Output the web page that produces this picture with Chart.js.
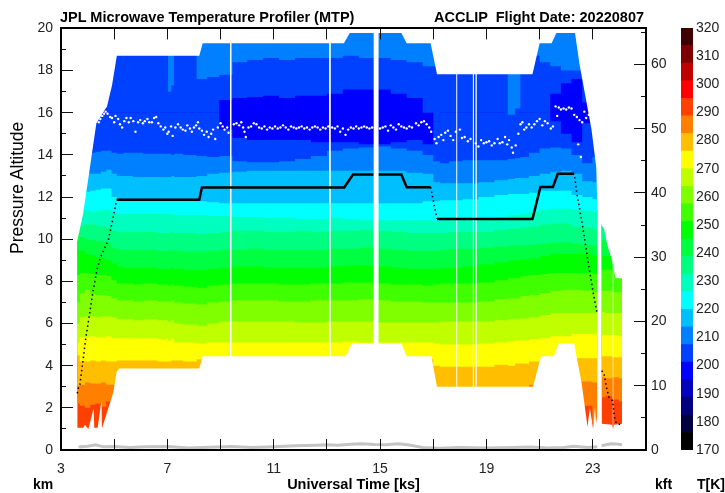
<!DOCTYPE html>
<html>
<head>
<meta charset="utf-8">
<title>MTP</title>
<script src="https://cdn.jsdelivr.net/npm/chart.js@4"></script>
<style>
body { margin: 0; background: #fff; overflow: hidden; }
canvas { position: absolute; top: 0; }
.lbl { position: absolute; font: bold 14px "Liberation Sans", Arial, sans-serif; color: #000; white-space: pre; line-height: 16px; }
</style>
</head>
<body>
<canvas id="mainChart" width="725" height="493" style="left:0"></canvas>
<canvas id="barChart" width="65" height="493" style="left:660px"></canvas>
<div class="lbl" style="left:60px;top:9px;font-size:14.5px">JPL Microwave Temperature Profiler (MTP)</div>
<div class="lbl" style="left:434px;top:9px;font-size:14.5px">ACCLIP  Flight Date: 20220807</div>
<div class="lbl" style="left:33px;top:476px">km</div>
<div class="lbl" style="left:655px;top:476px">kft</div>
<div class="lbl" style="left:697px;top:476px">T[K]</div>
<div class="lbl" style="left:9px;top:254px;font-weight:normal;font-size:17.5px;transform-origin:0 0;transform:rotate(-90deg)">Pressure Altitude</div>
<script>
// time columns for the isotherm altitudes, ks (23.25 is the data gap)
const times = [
    3.61, 3.8, 4.0, 4.2, 4.4, 4.6, 4.8, 5.0, 5.2, 5.5,
    5.9, 6.3, 6.95, 7.1, 7.2, 7.3, 7.9, 8.3, 8.7, 9.2,
    9.7, 10.3, 10.9, 11.5, 12.1, 12.7, 13.3, 13.9, 14.5, 15.1,
    15.7, 16.3, 16.9, 17.1, 17.4, 17.8, 18.4, 19, 19.6, 20.0,
    20.15, 20.4, 20.8, 21.2, 21.6, 22, 22.4, 22.8, 23.17, 23.25,
    23.33, 23.6, 23.85, 24.1
];

// altitude (km) of the top of each colour band
const redTop = [
    2.2, 2.1, 2.0, 2.15, 2.2, 2.05, 2.3, 2.3, 2.2, 2.2,
    2.2, 2.2, 2.2, 2.2, 2.2, 2.2, 2.2, 2.2, 2.2, 2.2,
    2.2, 2.2, 2.2, 2.2, 2.2, 2.2, 2.2, 2.2, 2.2, 2.2,
    2.2, 2.2, 2.2, 2.2, 2.2, 2.2, 2.2, 2.2, 2.2, 2.2,
    2.2, 2.2, 2.2, 2.2, 2.2, 2.2, 2.2, 2.1, 1.3, null,
    2.5, 2.55, 2.4, 2.3
];
const orangeTop = [
    3.05, 3.1, 3.2, 3.15, 3.15, 3.2, 3.1, 3.1, 3.1, 3.1,
    3.1, 3.1, 3.1, 3.1, 3.1, 3.1, 3.1, 3.1, 3.1, 3.1,
    3.1, 3.1, 3.1, 3.1, 3.1, 3.1, 3.1, 3.1, 3.1, 3.1,
    3.1, 3.1, 3.0, 2.9, 2.9, 2.9, 2.9, 2.9, 2.9, 2.9,
    2.9, 2.95, 3.1, 3.2, 3.2, 3.2, 3.25, 3.25, 3.2, null,
    3.45, 3.4, 3.45, 3.4
];
const amberTop = [
    4.5, 4.2, 4.2, 4.25, 4.2, 4.25, 4.2, 4.2, 4.25, 4.25,
    4.25, 4.25, 4.2, 4.2, 4.25, 4.25, 4.2, 4.3, 4.3, 4.3,
    4.3, 4.3, 4.3, 4.3, 4.3, 4.3, 4.3, 4.3, 4.3, 4.3,
    4.4, 4.4, 4.3, 4.0, 3.95, 3.95, 3.95, 3.95, 4.05, 4.0,
    4.1, 4.1, 4.2, 4.25, 4.3, 4.3, 4.35, 4.35, 4.35, null,
    4.45, 4.45, 4.4, 4.4
];
const yellowTop = [
    5.1, 5.35, 5.35, 5.4, 5.35, 5.35, 5.4, 5.3, 5.3, 5.3,
    5.3, 5.3, 5.25, 5.2, 5.3, 5.1, 5.1, 5.05, 5.1, 5.1,
    5.1, 5.1, 5.1, 5.1, 5.1, 5.1, 5.1, 5.15, 5.1, 5.1,
    5.1, 5.1, 5.1, 5.05, 5.0, 5.0, 5.0, 5.05, 5.1, 5.15,
    5.2, 5.2, 5.25, 5.3, 5.4, 5.4, 5.5, 5.5, 5.5, null,
    5.45, 5.45, 5.45, 5.4
];
const limeTop = [
    6.0, 6.3, 6.35, 6.35, 6.3, 6.35, 6.35, 6.3, 6.2, 6.2,
    6.15, 6.2, 6.15, 6.1, 6.15, 6.0, 5.95, 5.9, 6.0, 6.1,
    6.1, 6.1, 6.1, 6.1, 6.05, 6.05, 6.1, 6.1, 6.1, 6.05,
    6.05, 6.05, 6.05, 6.05, 6.1, 6.1, 6.1, 6.1, 6.15, 6.2,
    6.2, 6.25, 6.3, 6.4, 6.5, 6.5, 6.5, 6.5, 6.5, null,
    6.55, 6.5, 6.5, 6.5
];
const chartreuseTop = [
    7.0, 7.45, 7.6, 7.4, 7.35, 7.35, 7.3, 7.2, 7.1, 7.1,
    7.05, 7.1, 7.05, 7.05, 7.1, 7.0, 6.95, 6.9, 7.0, 7.05,
    7.1, 7.1, 7.1, 7.05, 7.05, 7.1, 7.1, 7.1, 7.15, 7.1,
    7.05, 7.05, 7.0, 7.0, 7.0, 7.0, 7.0, 7.05, 7.15, 7.2,
    7.2, 7.3, 7.35, 7.45, 7.55, 7.6, 7.6, 7.55, 7.5, null,
    7.55, 7.55, 7.5, 7.5
];
const leafTop = [
    8.3, 8.4, 8.4, 8.35, 8.3, 8.3, 8.25, 8.05, 7.9, 7.9,
    7.85, 7.9, 7.85, 7.8, 7.85, 7.8, 7.75, 7.7, 7.8, 7.85,
    7.9, 7.9, 7.9, 7.85, 7.85, 7.9, 7.9, 7.95, 7.95, 7.9,
    7.85, 7.85, 7.8, 7.85, 7.9, 7.9, 7.9, 7.95, 8.05, 8.15,
    8.15, 8.25, 8.3, 8.35, 8.4, 8.4, 8.4, 8.4, 8.35, null,
    8.55, 8.55, 8.5, 8.5
];
const greenTop = [
    9.5, 9.45, 9.3, 9.25, 9.15, 9.1, 9.0, 8.85, 8.7, 8.65,
    8.65, 8.65, 8.6, 8.6, 8.65, 8.6, 8.55, 8.55, 8.6, 8.65,
    8.7, 8.7, 8.65, 8.65, 8.65, 8.65, 8.7, 8.75, 8.75, 8.7,
    8.65, 8.6, 8.6, 8.6, 8.65, 8.65, 8.7, 8.8, 8.9, 9.0,
    9.0, 9.05, 9.1, 9.2, 9.3, 9.3, 9.3, 9.3, 9.2, null,
    9.2, 9.2, 9.2, 9.2
];
const springTop = [
    10.3, 10.1, 10.0, 9.95, 9.9, 9.9, 9.8, 9.6, 9.5, 9.5,
    9.5, 9.5, 9.45, 9.45, 9.5, 9.45, 9.4, 9.4, 9.45, 9.5,
    9.5, 9.55, 9.5, 9.5, 9.5, 9.5, 9.55, 9.55, 9.6, 9.55,
    9.5, 9.45, 9.45, 9.45, 9.5, 9.55, 9.55, 9.6, 9.65, 9.7,
    9.7, 9.7, 9.75, 9.8, 9.85, 9.85, 9.8, 9.75, 9.7, null,
    9.95, 9.9, 9.9, 9.9
];
const mintTop = [
    10.6, 10.65, 10.7, 10.7, 10.65, 10.6, 10.55, 10.4, 10.35, 10.35,
    10.35, 10.35, 10.3, 10.3, 10.35, 10.3, 10.3, 10.25, 10.3, 10.35,
    10.4, 10.4, 10.35, 10.35, 10.4, 10.35, 10.4, 10.4, 10.45, 10.4,
    10.35, 10.3, 10.3, 10.3, 10.3, 10.35, 10.35, 10.35, 10.45, 10.5,
    10.5, 10.55, 10.6, 10.7, 10.75, 10.75, 10.6, 10.55, 10.5, null,
    10.7, 10.7, 10.7, 10.7
];
const tealTop = [
    11.3, 11.4, 11.35, 11.3, 11.35, 11.4, 11.4, 11.25, 11.2, 11.2,
    11.2, 11.2, 11.2, 11.2, 11.2, 11.15, 11.15, 11.15, 11.1, 11.1,
    11.05, 11.05, 11.0, 11.0, 10.95, 10.95, 11.0, 10.95, 10.9, 10.9,
    10.9, 10.9, 10.9, 10.85, 10.9, 10.9, 10.9, 10.95, 11.05, 11.15,
    11.15, 11.2, 11.3, 11.4, 11.45, 11.45, 11.4, 11.35, 11.3, null,
    12, 12, 12, 12
];
const cyanTop = [
    12.1, 12.3, 12.25, 12.3, 12.35, 12.4, 12.4, 12.0, 11.9, 11.9,
    11.9, 11.9, 11.9, 11.9, 11.9, 11.85, 11.85, 11.8, 11.75, 11.7,
    11.7, 11.7, 11.7, 11.7, 11.7, 11.7, 11.7, 11.7, 11.7, 11.7,
    11.7, 11.7, 11.8, 11.8, 11.85, 11.85, 11.9, 12.0, 12.1, 12.15,
    12.15, 12.15, 12.2, 12.3, 12.3, 12.3, 12.1, 12.0, 11.9, null,
    13, 13, 13, 13
];
const skyTop = [
    12.95, 13.0, 13.15, 13.1, 13.1, 13.2, 13.3, 13.1, 13.0, 13.0,
    12.95, 12.95, 12.95, 12.95, 13.0, 12.95, 12.95, 13.0, 13.1, 13.15,
    13.2, 13.25, 13.25, 13.25, 13.25, 13.25, 13.25, 13.25, 13.25, 13.25,
    13.25, 13.15, 13.1, 12.7, 12.65, 12.65, 12.65, 12.7, 12.8, 12.85,
    12.9, 12.9, 13.0, 13.1, 13.2, 13.25, 13.1, 12.75, 12.7, null,
    14, 14, 14, 14
];
const azureTop = [
    13.9, 14.05, 14.1, 14.1, 14.15, 14.2, 14.2, 14.1, 14.05, 14.1,
    14.1, 14.05, 14.05, 14.05, 14.0, 14.05, 14.0, 13.95, 13.9, 13.95,
    13.7, 13.65, 13.65, 13.7, 13.8, 13.95, 14.2, 14.3, 14.35, 14.4,
    14.3, 14.2, 14.0, 13.7, 13.6, 13.7, 13.75, 13.75, 13.75, 13.8,
    13.85, 13.9, 14.1, 14.3, 14.35, 14.3, 14.0, 13.6, 13.9, null,
    15, 15, 15, 15
];
const royalLowTop = [
    16, 16, 16, 16, 16, 15.9, 16, 16, 16, 16,
    16, 16, 16, 16, 16, 16, 16, 16, 16, 15.2,
    14.8, 14.7, 14.7, 14.7, 14.7, 14.6, 14.6, 14.6, 14.5, 14.5,
    14.6, 14.7, 14.5, 15.6, 16, 16, 16, 16, 16, 16,
    16, 16, 16, 16, 15.6, 15, 14.6, 15.5, 16, null,
    16, 16, 16, 16
];
const blueTop = [
    16, 16, 16, 16, 16, 16.2, 16, 16, 16, 16,
    16, 16, 16, 16, 16, 16, 16, 16, 16, 16.6,
    16.7, 16.75, 16.8, 16.7, 16.8, 16.8, 16.9, 17.1, 17.1, 17.1,
    16.9, 16.7, 16.0, 15.6, 16, 16, 16, 16, 16, 16,
    16, 16, 16, 16, 16.9, 17.4, 17.6, 16.5, 16, null,
    16, 16, 16, 16
];
const royalTop = [
    20, 20, 20, 20, 20, 20, 20, 20, 20, 20,
    20, 20, 20, 17.0, 17.3, 20, 20, 17.6, 17.7, 17.8,
    18.4, 18.5, 18.6, 18.5, 18.6, 18.6, 18.6, 18.7, 18.6, 18.6,
    18.5, 18.4, 18.2, 18.2, 20, 20, 20, 20, 20, 15.9,
    16.2, 20, 18.7, 18.4, 18.2, 18.0, 18.0, 20, 20, null,
    20, 20, 20, 20
];

// outline of the measured region
const topTimes = [3.5, 3.61, 3.83, 4.03, 4.33, 4.73, 4.92, 5.1, 8.2, 8.33, 13.64, 13.86, 15.8, 16.0, 16.9, 17.14, 20.73, 21.0, 21.45, 21.63, 22.33, 22.5, 22.95, 23.13, 23.17, 23.33, 23.42, 23.55, 23.7, 23.76, 23.85, 24.1, 24.3];
const topAlts = [9.9, 9.9, 11.2, 12.9, 15.5, 16.3, 17.3, 18.7, 18.7, 19.3, 19.3, 19.78, 19.78, 19.3, 19.3, 17.82, 17.82, 19.3, 19.3, 19.78, 19.78, 18.3, 15.2, 13.4, 11.5, 10.66, 10.5, 9.7, 9.1, 8.8, 8.15, 8.15, 8.15];
const bottomTimes = [3.5, 3.61, 3.84, 3.9, 4.03, 4.23, 4.25, 4.38, 4.52, 4.54, 4.97, 5.09, 5.19, 8.2, 8.33, 13.7, 13.94, 15.8, 16.0, 16.93, 17.14, 20.75, 21.05, 21.53, 21.72, 22.3, 22.39, 22.58, 22.8, 22.89, 23.01, 23.08, 23.12, 23.17, 23.33, 23.72, 23.76, 23.8, 24.1, 24.3];
const bottomAlts = [1.05, 1.05, 1.05, 1.2, 1.0, 1.98, 1.05, 1.05, 2.35, 1.02, 2.75, 3.7, 3.87, 3.87, 4.45, 4.45, 5.05, 5.05, 4.45, 4.45, 3.0, 3.0, 4.45, 4.45, 5.05, 5.05, 4.42, 3.17, 1.1, 2.0, 1.0, 2.0, 1.25, 1.6, 1.25, 1.2, 1.0, 1.2, 1.25, 1.25];

// missing scans
const gapStart = [9.35, 13.08, 14.75, 17.86, 18.48, 18.58, 23.74];
const gapEnd = [9.42, 13.15, 14.95, 17.91, 18.53, 18.64, 23.78];

// aircraft altitude: level legs and the sparse climb and descent samples
const levelTimes = [5.09, 8.2, 8.3, 13.65, 13.98, 14.75, 14.76, 14.95, 15.8, 16.0, 16.9, 16.95, 17.14, 20.73, 20.8, 21.03, 21.5, 21.68, 22.3];
const levelAlts = [11.87, 11.87, 12.45, 12.45, 13.07, 13.07, null, 13.07, 13.07, 12.47, 12.47, null, 10.96, 10.96, 11.3, 12.48, 12.48, 13.1, 13.1];
const climbTimes = [3.61, 3.67, 3.71, 3.83, 3.94, 4.05, 4.2, 4.35, 4.47, 4.78, 4.94, 5.09, 5.1, 16.9, 17.14, 17.15, 22.32, 22.39, 22.49, 22.61, 22.7, 22.8, 23.01, 23.16, 23.2, 23.33, 23.42, 23.51, 23.6, 23.74, 23.83, 23.89, 24.1];
const climbAlts = [2.69, 3.03, 3.1, 4.27, 5.37, 6.25, 7.5, 8.53, 9.1, 9.95, 10.9, 11.85, null, 12.47, 10.96, null, 12.95, 12.24, 11.53, 10.66, 9.95, 9.1, 7.5, 6.49, null, 3.76, 3.64, 3.0, 2.52, 2.34, 1.42, 1.26, 1.18];

// tropopause samples
const tropTimes = [
    4.42, 4.48, 4.55, 4.62, 4.68, 4.75, 4.85, 4.92, 5.0, 5.05, 5.15, 5.22, 5.3, 5.38, 5.46, 5.55, 5.62, 5.72, 5.8, 5.9,
    5.98, 6.08, 6.15, 6.25, 6.32, 6.42, 6.5, 6.58, 6.66, 6.75, 6.85, 6.92, 7.0, 7.05, 7.14, 7.2, 7.3, 7.4, 7.5, 7.58,
    7.68, 7.75, 7.85, 7.92, 8.0, 8.08, 8.15, 8.2, 8.3, 8.38, 8.48, 8.55, 8.65, 8.72, 8.8, 8.9, 9.0, 9.08, 9.15, 9.25,
    9.3, 9.5, 9.6, 9.7, 9.78, 9.85, 9.9, 9.95, 10.05, 10.15, 10.25, 10.35, 10.45, 10.55, 10.65, 10.75, 10.85, 10.95, 11.05, 11.15,
    11.25, 11.35, 11.45, 11.55, 11.65, 11.75, 11.85, 11.95, 12.05, 12.15, 12.25, 12.35, 12.45, 12.55, 12.65, 12.75, 12.85, 12.95, 13.05, 13.2,
    13.3, 13.4, 13.5, 13.6, 13.7, 13.8, 13.9, 14.0, 14.1, 14.2, 14.3, 14.4, 14.5, 14.6, 14.7, 15.0, 15.1, 15.2, 15.3, 15.4,
    15.5, 15.6, 15.7, 15.8, 15.9, 16.0, 16.1, 16.2, 16.35, 16.45, 16.55, 16.65, 16.75, 16.85, 16.92, 17.05, 17.12, 17.2, 17.3, 17.38,
    17.45, 17.55, 17.65, 17.75, 17.85, 18.0, 18.08, 18.18, 18.3, 18.4, 18.6, 18.7, 18.8, 18.9, 19, 19.1, 19.2, 19.3, 19.42, 19.5,
    19.6, 19.7, 19.78, 19.85, 19.95, 20.0, 20.1, 20.2, 20.28, 20.35, 20.42, 20.5, 20.6, 20.7, 20.8, 20.9, 21.0, 21.1, 21.2, 21.3,
    21.42, 21.5, 21.6, 21.66, 21.72, 21.8, 21.9, 22.0, 22.1, 22.2, 22.3, 22.4, 22.45, 22.5, 22.55, 22.6, 22.68, 22.75, 22.85, 23.0
];
const tropAlts = [
    15.55, 15.7, 15.85, 15.95, 16.05, 15.95, 15.8, 15.75, 15.55, 15.85, 15.7, 15.45, 15.3, 15.6, 15.75, 15.55, 15.75, 15.6, 15.1, 15.55,
    15.65, 15.5, 15.6, 15.7, 15.55, 15.55, 15.75, 15.8, 15.5, 15.35, 15.2, 15.3, 15.0, 15.1, 15.35, 14.9, 15.3, 15.45, 15.3, 15.2,
    15.15, 15.4, 15.25, 15.1, 15.3, 15.4, 15.55, 15.25, 15.15, 14.95, 15.1, 14.85, 15.0, 15.2, 14.75, 15.3, 15.5, 15.35, 15.2, 15.3,
    15.05, 15.45, 15.5, 15.4, 15.55, 15.3, 15.1, 14.85, 15.3, 15.35, 15.5, 15.45, 15.3, 15.25, 15.35, 15.2, 15.3, 15.25, 15.35, 15.25,
    15.3, 15.4, 15.3, 15.2, 15.35, 15.3, 15.25, 15.3, 15.35, 15.25, 15.3, 15.2, 15.3, 15.35, 15.3, 15.2, 15.3, 15.25, 15.35, 15.3,
    15.25, 15.35, 15.1, 15.25, 14.95, 15.2, 15.3, 15.25, 15.35, 15.25, 15.3, 15.35, 15.3, 15.25, 15.3, 15.25, 15.3, 15.35, 15.15, 15.4,
    15.3, 15.2, 15.45, 15.35, 15.3, 15.25, 15.35, 15.3, 15.5, 15.4, 15.55, 15.6, 15.45, 15.3, 15.1, 14.75, 14.55, 14.85, 14.95, 14.7,
    15.05, 15.15, 14.9, 14.7, 15.1, 15.2, 14.8, 14.85, 14.65, 14.75, 14.55, 14.4, 14.7, 14.55, 14.6, 14.65, 14.45, 14.55, 14.75, 14.55,
    14.6, 14.85, 14.5, 14.7, 14.35, 14.1, 14.45, 15.0, 15.45, 15.55, 15.2, 15.3, 15.45, 15.3, 15.45, 15.6, 15.7, 15.4, 15.6, 15.5,
    15.25, 15.35, 16.3, 15.85, 16.25, 16.15, 16.2, 16.15, 16.25, 16.2, 15.9, 15.8, 14.5, 15.65, 13.9, 15.55, 16.05, 15.75, 15.9, 15.6
];

// grey trace along the bottom of the plot
const greyTimes = [3.62, 3.63, 3.68, 3.72, 4.0, 4.3, 4.6, 5.0, 5.6, 6.2, 7.0, 7.8, 8.6, 9.4, 10.2, 11.0, 11.8, 12.6, 13.0, 13.4, 13.9, 14.3, 14.8, 15.2, 15.7, 16.1, 16.6, 17.2, 18.0, 19.0, 20.0, 20.7, 21.3, 21.9, 22.3, 22.8, 23.17, 23.25, 23.33, 23.5, 23.7, 23.9, 24.1];
const greyAlts = [0.55, null, 0.2, 0.15, 0.18, 0.25, 0.15, 0.17, 0.12, 0.15, 0.17, 0.1, 0.13, 0.17, 0.12, 0.15, 0.2, 0.23, 0.25, 0.22, 0.27, 0.3, 0.26, 0.25, 0.3, 0.24, 0.12, 0.08, 0.12, 0.1, 0.12, 0.14, 0.1, 0.12, 0.18, 0.12, 0.15, null, 0.2, 0.25, 0.3, 0.28, 0.25];

// colour bar edges in K, coldest first
const barEdges = [170, 176.25, 182.5, 188.75, 195, 201.25, 207.5, 213.75, 220, 226.25, 232.5, 238.75, 245, 251.25, 257.5, 263.75, 270, 276.25, 282.5, 288.75, 295, 301.25, 307.5, 313.75, 320];
const barColors = ['#000000', '#00003f', '#00007f', '#0000bf', '#0000ff', '#0040ff', '#0080ff', '#00bfff', '#00ffff', '#00ffbf', '#00ff80', '#00ff40', '#00ff00', '#40ff00', '#80ff00', '#bfff00', '#ffff00', '#ffbf00', '#ff8000', '#ff4000', '#ff0000', '#bf0000', '#7f0000', '#3f0000'];

const axisFont = { family: '"Liberation Sans", Arial, sans-serif', size: 14 };
const axisInk = '#222';

function pairs(xs, ys) {
    return xs.map((x, i) => ({ x: x, y: ys[i] }));
}

function quietLine(data, extra) {
    return Object.assign({ data: data, borderColor: 'rgba(0,0,0,0)', borderWidth: 1, pointRadius: 0, tension: 0, spanGaps: false }, extra);
}

// painted warmest first, every band reaches up to the top of the axis and the next one paints over it
const bandSeries = [
    [times.map((t, i) => (redTop[i] === null ? null : 0)), '#ff4000'],
    [redTop, '#ff8000'],
    [orangeTop, '#ffbf00'],
    [amberTop, '#ffff00'],
    [yellowTop, '#bfff00'],
    [limeTop, '#80ff00'],
    [chartreuseTop, '#40ff00'],
    [leafTop, '#00ff00'],
    [greenTop, '#00ff40'],
    [springTop, '#00ff80'],
    [mintTop, '#00ffbf'],
    [tealTop, '#00ffff'],
    [cyanTop, '#00bfff'],
    [skyTop, '#0080ff'],
    [azureTop, '#0040ff'],
    [royalLowTop, '#0000ff'],
    [blueTop, '#0040ff'],
    [royalTop, '#0080ff']
];

const datasets = [];
datasets.push(quietLine(pairs(greyTimes, greyAlts), { borderColor: '#c4c4c4', borderWidth: 3 }));
datasets.push({ data: pairs(tropTimes, tropAlts), showLine: false, pointRadius: 1.2, pointBorderWidth: 0, pointBackgroundColor: '#fff' });
datasets.push(quietLine(pairs(levelTimes, levelAlts), { borderColor: '#000', borderWidth: 2.5 }));
datasets.push(quietLine(pairs(climbTimes, climbAlts), { borderColor: '#000', borderWidth: 1.5, borderDash: [1.5, 3] }));
gapStart.forEach((start, i) => {
    datasets.push(quietLine([{ x: start, y: 20 }, { x: gapEnd[i], y: 20 }], { fill: 'start', backgroundColor: '#fff' }));
});
datasets.push(quietLine(pairs(topTimes, topAlts), { fill: 'end', backgroundColor: '#fff' }));
datasets.push(quietLine(pairs(bottomTimes, bottomAlts), { fill: 'start', backgroundColor: '#fff' }));
bandSeries.slice().reverse().forEach(band => {
    datasets.push(quietLine(pairs(times, band[0]), { fill: 'end', backgroundColor: band[1], stepped: 'middle' }));
});

function frameAxis(axis, position, min, max, step, tick, size, weight, showLabels) {
    const horizontal = position === 'top' || position === 'bottom';
    return {
        type: 'linear',
        axis: axis,
        position: position,
        min: min,
        max: max,
        weight: weight,
        afterFit: s => { if (horizontal) s.height = size; else s.width = size; },
        border: { display: true, color: '#000', width: 2, z: 2 },
        grid: { drawOnChartArea: false, drawTicks: true, tickLength: -tick, tickColor: '#111', tickWidth: 1, z: 1 },
        ticks: Object.assign({
            display: showLabels,
            stepSize: step,
            includeBounds: false,
            color: axisInk,
            font: axisFont,
            autoSkip: false,
            maxRotation: 0,
            z: 1
        }, horizontal ? { padding: tick + 11 } : { padding: tick + 8 })
    };
}

const xAxis = frameAxis('x', 'bottom', 3, 25, 2, 11, 43, 1, true);
xAxis.ticks.callback = v => ((v - 3) % 4 === 0 && v < 25 ? String(v) : '');
xAxis.title = {
    display: true,
    text: 'Universal Time [ks]',
    color: '#000',
    font: { family: axisFont.family, size: 14.5, weight: 'bold' },
    padding: { top: 0, bottom: -1 }
};

const leftAxis = frameAxis('y', 'left', 0, 20, 2, 12, 61, 1, true);
const rightAxis = frameAxis('y', 'right', 0, 65.6168, 10, 12, 79, 1, true);
rightAxis.ticks.padding = 17;
rightAxis.ticks.callback = v => String(v);

new Chart(document.getElementById('mainChart'), {
    type: 'line',
    data: { datasets: datasets },
    options: {
        responsive: false,
        animation: false,
        layout: { padding: 0 },
        plugins: { legend: { display: false }, tooltip: { enabled: false } },
        scales: {
            x: xAxis,
            xTop: frameAxis('x', 'top', 3, 25, 2, 11, 28, 1, false),
            y: leftAxis,
            yMinor: frameAxis('y', 'left', 0, 20, 1, 5, 0, 0, false),
            kft: rightAxis,
            kftMinor: frameAxis('y', 'right', 0, 65.6168, 5, 5, 0, 0, false)
        }
    }
});

new Chart(document.getElementById('barChart'), {
    type: 'bar',
    data: {
        labels: [''],
        datasets: barColors.map((color, i) => ({
            data: [[barEdges[i], barEdges[i + 1]]],
            backgroundColor: color,
            barPercentage: 1,
            categoryPercentage: 1,
            grouped: false
        }))
    },
    options: {
        responsive: false,
        animation: false,
        layout: { padding: { left: 21, top: 28, bottom: 43 } },
        plugins: { legend: { display: false }, tooltip: { enabled: false } },
        scales: {
            x: { display: false },
            y: {
                position: 'right',
                min: 170,
                max: 320,
                afterFit: s => { s.width = 32; },
                border: { display: false },
                grid: { display: false, drawTicks: false },
                ticks: { stepSize: 10, color: axisInk, font: axisFont, padding: 3, autoSkip: false }
            }
        }
    }
});
</script>
</body>
</html>
